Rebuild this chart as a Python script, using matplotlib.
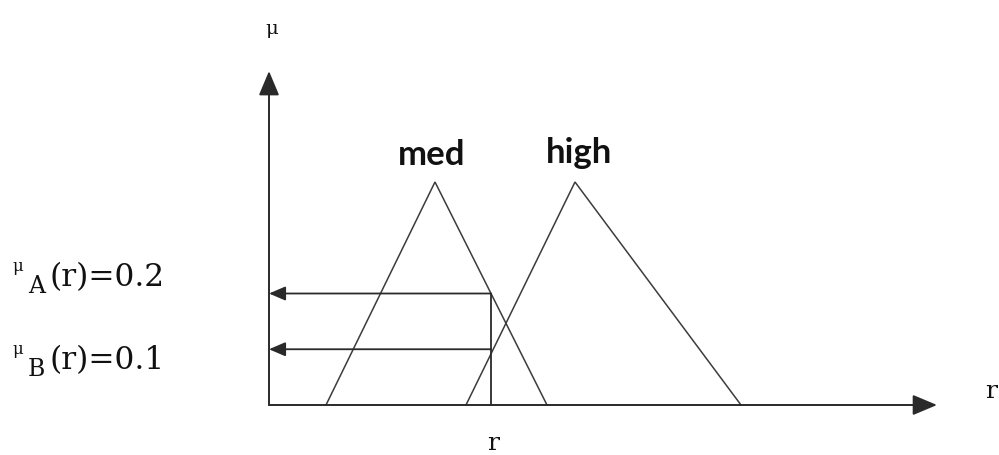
import matplotlib
matplotlib.use("Agg")
import matplotlib.pyplot as plt

# Fuzzy sets on r: (left foot, peak, right foot)
med = [5.7, 16.6, 27.8]
high = [19.7, 30.6, 47.2]
peak = 0.4
set_names = ["med", "high"]

# crisp input and its membership grades
r0 = 22.2
mu_levels = [0.2, 0.1]
mu_labels = ["A", "B"]

# axis arrow extents
x_end = 66.8
y_end = 0.599

W, H = 999, 456
fig = plt.figure(figsize=(W / 100, H / 100), dpi=100)
ax = fig.add_axes([0, 0, 1, 1])
ax.set_xlim(-26.9, (W - 269) / 10)
ax.set_ylim(-50 / 557.5, 406 / 557.5)
ax.axis("off")


def fx(px):
    return px / W


def fy(py):
    return 1 - py / H


line_col = "#3c3c3c"
axis_col = "#2a2a2a"
text_col = "#111111"

# triangles
for tri in (med, high):
    ax.plot(tri, [0, peak, 0], color=line_col, lw=1.1, solid_joinstyle="miter")

# axes with arrow heads
head = "-|>,head_length=15,head_width=6.3"
for tip in [(x_end, 0), (0, y_end)]:
    ax.annotate("", xy=tip, xytext=(0, 0),
                arrowprops=dict(arrowstyle=head, mutation_scale=1, lw=1.4,
                                color=axis_col, shrinkA=0, shrinkB=0))

# vertical at r0 and arrows to the membership axis
ax.plot([r0, r0], [0, max(mu_levels)], color=axis_col, lw=1.3)
for lv in mu_levels:
    ax.annotate("", xy=(0, lv), xytext=(r0, lv),
                arrowprops=dict(arrowstyle="-|>,head_length=10,head_width=4.3",
                                mutation_scale=1, lw=1.3, color=axis_col,
                                shrinkA=0, shrinkB=0))

# set names
ax.text(med[1] - 0.3, 0.432, set_names[0], ha="center", va="baseline",
        fontsize=25, fontweight="bold", family="Lato", color=text_col)
ax.text(high[1] + 0.45, 0.436, set_names[1], ha="center", va="baseline",
        fontsize=25, fontweight="bold", family="Lato", color=text_col)

serif = "DejaVu Serif"
# membership labels on the left
for lv, lab, base in zip(mu_levels, mu_labels, [286, 369]):
    fig.text(fx(12), fy(base - 15), "\u03bc", fontsize=12, family=serif,
             va="baseline", ha="left", color=text_col)
    fig.text(fx(28), fy(base + 7), lab, fontsize=17, family=serif,
             va="baseline", ha="left", color=text_col)
    fig.text(fx(49), fy(base), f"(r)={lv}", fontsize=22.5, family=serif,
             va="baseline", ha="left", color=text_col)

# axis names
fig.text(fx(265), fy(34), "\u03bc", fontsize=14, family=serif,
         va="baseline", ha="left", color=text_col)
fig.text(fx(985), fy(398), "r", fontsize=18, family=serif,
         va="baseline", ha="left", color=text_col)
fig.text(fx(487), fy(450), "r", fontsize=18, family=serif,
         va="baseline", ha="left", color=text_col)

fig.savefig("out.png", dpi=100, facecolor="white")
